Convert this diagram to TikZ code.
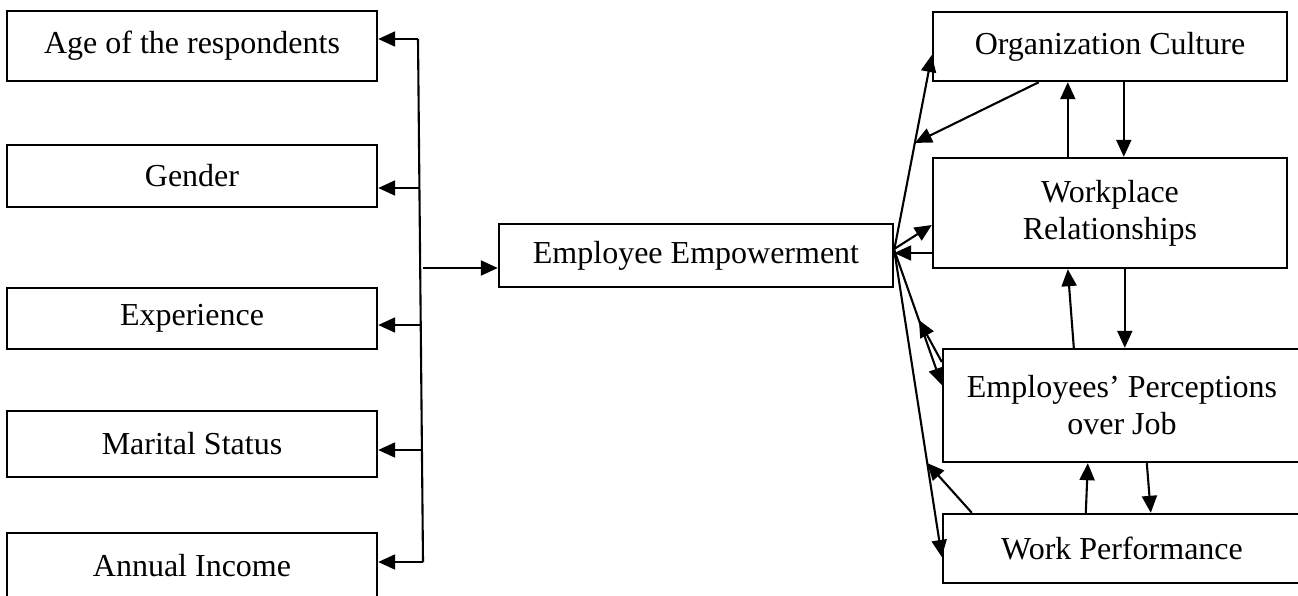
\documentclass[tikz,border=0pt]{standalone}
\usepackage{fontspec}
\setmainfont{Liberation Serif}
\usetikzlibrary{arrows.meta,calc}
\begin{document}
\begin{tikzpicture}[x=1pt,y=-1pt,
  box/.style={draw,line width=2.4pt,rectangle,inner sep=0pt,align=center,
    font=\fontsize{32}{37}\selectfont},
  link/.style={line width=2.1pt,-{Triangle[length=17pt,width=15pt]}},
  wire/.style={line width=2.1pt}]
\clip (0,0) rectangle (1298,595);
\fill[white] (0,0) rectangle (1298,595);

% demographic factors
\node[box,minimum width=370pt,minimum height=70pt] (age) at (192,46) {Age of the respondents};
\node[box,minimum width=370pt,minimum height=62pt] (gender) at (192,176) {Gender};
\node[box,minimum width=370pt,minimum height=61pt] (exp) at (192,318.5) {Experience};
\node[box,minimum width=370pt,minimum height=66pt] (marital) at (192,444) {Marital Status};
\node[box,minimum width=370pt,minimum height=65pt] (income) at (192,565.5) {Annual Income};

% central construct
\node[box,minimum width=394pt,minimum height=63pt] (ee) at (696,255.5) {Employee Empowerment};

% outcome factors
\node[box,minimum width=354pt,minimum height=69pt] (oc) at (1110,46.5) {Organization Culture};
\node[box,minimum width=354pt,minimum height=110pt] (wr) at (1110,213) {Workplace\\Relationships};
\node[box,minimum width=358pt,minimum height=113pt] (ep) at (1122,405.5) {Employees’ Perceptions\\over Job};
\node[box,minimum width=358pt,minimum height=69pt] (wp) at (1122,548.5) {Work Performance};

% bus on the left
\coordinate (b1) at (418,39);
\coordinate (b2) at (419.4,188);
\coordinate (b3) at (420.7,325);
\coordinate (b4) at (421.9,450);
\coordinate (b5) at (423,562);
\coordinate (bj) at (423,268);
\draw[wire] (b1) -- (b5);
\draw[link] (b1) -- (age.east |- b1);
\draw[link] (b2) -- (gender.east |- b2);
\draw[link] (b3) -- (exp.east |- b3);
\draw[link] (b4) -- (marital.east |- b4);
\draw[link] (b5) -- (income.east |- b5);
\draw[link] (bj) -- (ee.west |- bj);

% fan on the right
\coordinate (f) at ([yshift=5.5pt]ee.east);
\coordinate (tOC) at ([yshift=-8.5pt]oc.west);
\coordinate (tEP) at ([yshift=20.5pt]ep.west);
\coordinate (tWP) at ([yshift=-8.5pt]wp.west);
\coordinate (wrback) at ([yshift=-40pt]wr.west);
\draw[link] (f) -- (tOC);
\draw[link] ([yshift=6.5pt]ee.east) -- ([yshift=-12pt]wr.west);
\draw[link] (wrback) -- (ee.east |- wrback);
\draw[link] (f) -- (tEP);
\draw[link] (f) -- (tWP);

% feedback onto the fan lines
\draw[link] ([xshift=107pt]oc.south west) -- ($(f)!0.549!(tOC)$);
\draw[link] ([yshift=43.5pt]ep.west) -- ($(f)!0.519!(tEP)$);
\draw[link] ([xshift=30pt]wp.north west) -- ($(f)!0.694!(tWP)$);

% links between neighbouring outcome boxes
\draw[link] ([xshift=136pt]wr.north west) -- ([xshift=136pt]oc.south west);
\draw[link] ([xshift=192pt]oc.south west) -- ([xshift=192pt]wr.north west);
\draw[link] ([xshift=132pt]ep.north west) -- ([xshift=136pt]wr.south west);
\draw[link] ([xshift=193pt]wr.south west) -- ([xshift=183pt]ep.north west);
\draw[link] ([xshift=144pt]wp.north west) -- ([xshift=146pt]ep.south west);
\draw[link] ([xshift=205pt]ep.south west) -- ([xshift=209pt]wp.north west);
\end{tikzpicture}
\end{document}
